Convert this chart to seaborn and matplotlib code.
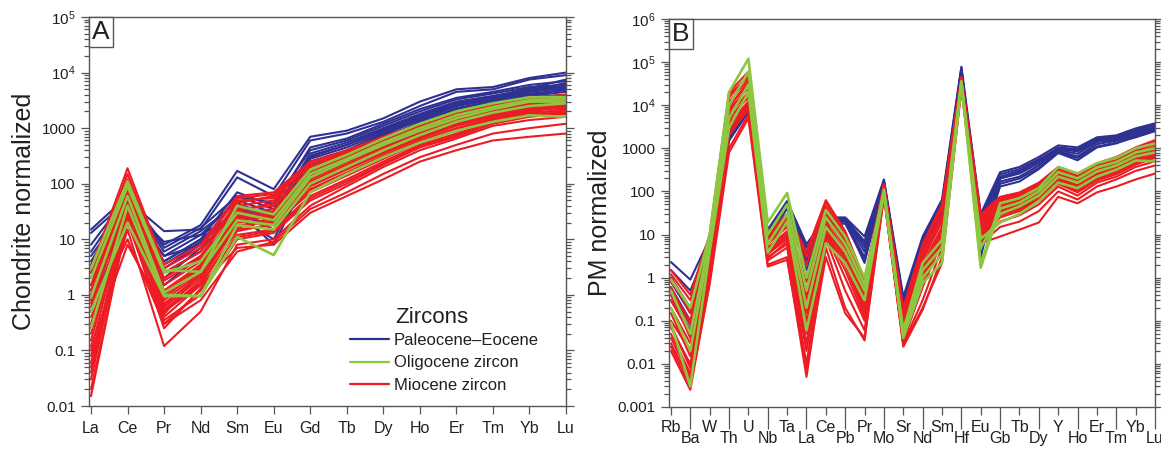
import numpy as np
import pandas as pd
import matplotlib
matplotlib.use("Agg")
import matplotlib.pyplot as plt
import seaborn as sns
from matplotlib.ticker import LogLocator, FuncFormatter, NullFormatter
from matplotlib.offsetbox import AnchoredText
from matplotlib.lines import Line2D

# ---------------- data ----------------
ree_elements = ["La", "Ce", "Pr", "Nd", "Sm", "Eu", "Gd", "Tb", "Dy", "Ho", "Er", "Tm", "Yb", "Lu"]
pm_elements = ["Rb", "Ba", "W", "Th", "U", "Nb", "Ta", "La", "Ce", "Pb", "Pr", "Mo", "Sr",
               "Nd", "Sm", "Hf", "Eu", "Gb", "Tb", "Dy", "Y", "Ho", "Er", "Tm", "Yb", "Lu"]

group_labels = ["Paleocene–Eocene", "Oligocene zircon", "Miocene zircon"]
group_colors = ["#2e3192", "#8dc63f", "#ed1c24"]

# Chondrite-normalized REE, Paleocene–Eocene zircon
ree_paleo = [
    [15, 60, 8, 18, 170, 80, 700, 900, 1500, 3000, 5000, 5500, 8000, 10000],
    [13, 50, 14, 15, 130, 60, 600, 800, 1300, 2500, 4500, 5000, 7500, 9000],
    [5, 40, 4, 10, 70, 40, 450, 650, 1200, 2200, 3500, 4500, 6000, 7000],
    [3, 30, 3, 8, 60, 35, 300, 500, 900, 1600, 2800, 3500, 5000, 6000],
    [1.5, 25, 2.5, 6, 40, 25, 250, 400, 800, 1400, 2500, 3200, 4500, 5500],
    [4, 45, 5, 12, 50, 30, 350, 550, 1000, 1800, 3000, 3800, 5000, 5500],
    [2, 35, 3.5, 9, 35, 20, 200, 350, 700, 1200, 2200, 3000, 4000, 5000],
    [1, 28, 2, 7, 30, 15, 150, 300, 600, 1100, 2000, 2800, 3800, 4500],
    [6, 55, 6, 14, 45, 25, 280, 450, 850, 1500, 2700, 3400, 4600, 5200],
    [0.5, 30, 1.5, 5, 25, 10, 180, 320, 650, 1300, 2300, 3000, 4200, 4800],
    [2.5, 38, 9, 12, 28, 18, 220, 380, 750, 1400, 2600, 3300, 4800, 6500],
    [8, 60, 7, 16, 60, 45, 400, 600, 1100, 2000, 3300, 4200, 5500, 6000],
    [1.2, 32, 4, 10, 32, 8, 160, 280, 600, 1000, 1800, 2600, 3600, 4000],
    [3.5, 42, 5, 8, 38, 22, 320, 500, 950, 1700, 2900, 3700, 5200, 7500],
]

# Chondrite-normalized REE, Oligocene zircon
ree_olig = [
    [3, 110, 2.8, 2.6, 40, 28, 180, 330, 650, 1200, 2000, 2800, 3600, 3600],
    [0.9, 60, 1.1, 2.6, 22, 18, 130, 260, 500, 900, 1500, 2200, 3000, 3000],
    [0.25, 40, 1.0, 0.95, 18, 15, 100, 200, 400, 750, 1300, 1900, 2500, 2800],
    [0.5, 20, 0.95, 0.95, 11, 5.2, 70, 150, 300, 550, 900, 1300, 1700, 1600],
    [2, 90, 2.5, 4, 30, 22, 150, 280, 550, 1000, 1700, 2400, 3200, 3300],
]

# Chondrite-normalized REE, Miocene zircon
ree_mio = [
    [3, 190, 3.5, 8, 60, 70, 250, 400, 700, 1200, 2000, 2600, 3500, 4000],
    [2, 120, 2.5, 6, 45, 60, 200, 350, 650, 1100, 1800, 2400, 3200, 3800],
    [1.5, 100, 2, 5, 40, 50, 180, 320, 600, 1000, 1700, 2300, 3000, 3500],
    [1, 80, 1.5, 4, 35, 40, 160, 300, 550, 950, 1600, 2200, 2800, 3300],
    [0.8, 70, 1.2, 3.5, 30, 35, 140, 260, 500, 900, 1500, 2000, 2600, 3000],
    [0.5, 60, 1, 3, 28, 30, 120, 240, 450, 800, 1400, 1900, 2500, 2900],
    [0.3, 50, 0.8, 2.5, 25, 28, 110, 220, 420, 750, 1300, 1800, 2400, 2800],
    [0.2, 45, 0.7, 2.2, 22, 25, 100, 200, 380, 700, 1200, 1700, 2200, 2600],
    [0.1, 40, 0.6, 2, 20, 22, 90, 180, 350, 650, 1100, 1600, 2100, 2500],
    [0.06, 35, 0.5, 1.8, 18, 20, 80, 160, 320, 600, 1000, 1500, 2000, 2400],
    [0.03, 30, 0.4, 1.5, 15, 18, 70, 140, 280, 550, 900, 1400, 1800, 2200],
    [0.015, 25, 0.3, 1.2, 12, 15, 60, 120, 250, 500, 800, 1300, 1700, 2000],
    [0.05, 20, 0.35, 1, 10, 13, 50, 100, 220, 450, 700, 1200, 1600, 1800],
    [0.08, 15, 0.12, 0.5, 8, 10, 40, 90, 200, 400, 650, 1100, 1400, 1600],
    [0.4, 10, 0.3, 0.8, 6, 9, 35, 70, 150, 300, 500, 800, 1000, 1200],
    [0.12, 8, 0.5, 1.5, 7, 8, 30, 60, 120, 250, 400, 600, 700, 800],
    [1.2, 90, 1.8, 4.5, 50, 55, 220, 380, 680, 1150, 1900, 2500, 3300, 3600],
    [0.6, 65, 0.9, 2.8, 32, 45, 150, 280, 520, 920, 1550, 2100, 2700, 3100],
    [0.25, 55, 1.1, 3.2, 26, 32, 130, 250, 470, 850, 1450, 1950, 2550, 2700],
    [0.15, 42, 0.45, 2.6, 16, 24, 95, 190, 360, 680, 1150, 1650, 2150, 2300],
    [0.04, 28, 0.55, 1.6, 14, 19, 75, 150, 300, 580, 950, 1450, 1900, 2100],
    [0.02, 22, 0.25, 1.3, 11, 14, 55, 110, 230, 470, 750, 1250, 1650, 1900],
    [2.5, 150, 3, 7, 55, 65, 230, 360, 620, 1050, 1750, 2350, 3100, 3400],
    [0.7, 75, 0.65, 2.4, 24, 26, 105, 210, 400, 720, 1250, 1750, 2300, 2500],
]

# Primitive-mantle-normalized trace elements, Paleocene–Eocene zircon
pm_paleo = [
    [2.3, 0.9, 8, 3000, 12000, 13, 60, 6, 25, 25, 9, 190, 0.36, 9, 65, 78000, 30, 280, 370, 630, 1170, 1050, 1800, 2000, 2900, 3800],
    [1.5, 0.5, 6, 2500, 10000, 11, 55, 4, 22, 24, 6, 170, 0.3, 7, 50, 70000, 25, 250, 330, 560, 1000, 900, 1600, 1800, 2600, 3400],
    [1.0, 0.2, 5, 2000, 9000, 10, 50, 3, 20, 22, 4, 160, 0.25, 6, 40, 65000, 20, 220, 300, 500, 950, 850, 1500, 1700, 2400, 3100],
    [0.6, 0.1, 4, 1800, 8000, 9, 45, 2.5, 18, 20, 3, 150, 0.2, 5, 35, 60000, 15, 200, 260, 450, 900, 750, 1400, 1600, 2200, 2900],
    [0.4, 0.06, 3, 1500, 7000, 8, 40, 2, 16, 18, 2.5, 140, 0.15, 4, 30, 55000, 10, 170, 220, 400, 850, 650, 1250, 1500, 2000, 2700],
    [0.8, 0.15, 4.5, 2200, 9500, 12, 58, 5, 24, 23, 7, 180, 0.28, 8, 55, 72000, 8, 150, 200, 350, 800, 600, 1100, 1350, 1800, 2500],
    [0.3, 0.05, 3.5, 1600, 7500, 9.5, 48, 1.5, 19, 21, 2.2, 155, 0.12, 3.5, 25, 58000, 5, 130, 170, 330, 780, 530, 1050, 1300, 1900, 2600],
    [0.5, 0.08, 4, 1900, 8500, 10.5, 52, 3.5, 21, 24, 5, 165, 0.22, 6.5, 45, 68000, 3, 200, 280, 520, 1050, 950, 1700, 1900, 2700, 3500],
]

# Primitive-mantle-normalized trace elements, Oligocene zircon
pm_olig = [
    [0.9, 0.2, 10, 20000, 120000, 19, 92, 1, 37, 9, 1.0, 95, 0.06, 2.2, 7.5, 34000, 2, 53, 70, 120, 370, 260, 450, 600, 1000, 1300],
    [0.5, 0.05, 8, 10000, 60000, 10, 50, 0.5, 25, 6, 0.7, 110, 0.05, 1.5, 5, 36000, 1.7, 40, 55, 100, 280, 200, 360, 480, 800, 1000],
    [0.2, 0.02, 6, 5000, 30000, 6, 30, 0.2, 15, 4, 0.5, 100, 0.045, 1.0, 3.5, 33000, 5, 30, 45, 80, 220, 160, 290, 400, 650, 800],
    [0.09, 0.003, 4, 3000, 20000, 3.8, 20, 0.06, 6.3, 2.2, 0.3, 90, 0.04, 0.75, 2.2, 32000, 8, 19, 30, 60, 160, 120, 220, 320, 520, 500],
]

# Primitive-mantle-normalized trace elements, Miocene zircon
pm_mio = [
    [1.5, 0.4, 10, 20000, 60000, 11, 30, 4, 63, 12, 0.9, 150, 0.2, 6, 50, 45000, 30, 75, 95, 160, 370, 260, 450, 630, 1050, 1550],
    [1.2, 0.3, 8, 15000, 50000, 9, 25, 2, 45, 10, 0.7, 140, 0.15, 5, 40, 42000, 25, 65, 85, 140, 330, 230, 400, 560, 950, 1400],
    [0.8, 0.2, 6, 12000, 40000, 8, 20, 1, 35, 8, 0.5, 130, 0.12, 4, 30, 40000, 20, 55, 75, 120, 300, 200, 360, 500, 850, 1250],
    [0.5, 0.1, 5, 10000, 30000, 7, 18, 0.5, 30, 6, 0.4, 120, 0.1, 3, 25, 38000, 18, 50, 65, 110, 270, 180, 320, 450, 750, 1100],
    [0.3, 0.05, 4, 8000, 25000, 6, 15, 0.3, 25, 5, 0.3, 115, 0.08, 2.5, 20, 36000, 15, 45, 58, 100, 240, 160, 290, 400, 680, 1000],
    [0.2, 0.03, 3, 6000, 20000, 5, 12, 0.2, 20, 4, 0.25, 110, 0.06, 2, 15, 34000, 13, 40, 50, 90, 210, 140, 260, 360, 600, 900],
    [0.1, 0.02, 2.5, 5000, 15000, 4, 10, 0.1, 15, 3, 0.2, 100, 0.05, 1.5, 12, 32000, 11, 35, 45, 80, 190, 120, 230, 320, 540, 800],
    [0.07, 0.01, 2, 4000, 12000, 3.5, 8, 0.05, 12, 2, 0.15, 95, 0.04, 1, 9, 30000, 9, 30, 40, 70, 170, 110, 200, 280, 480, 700],
    [0.05, 0.006, 1.5, 3000, 10000, 3, 6, 0.02, 10, 1, 0.1, 90, 0.035, 0.6, 7, 28000, 8, 25, 35, 60, 150, 95, 180, 250, 420, 600],
    [0.03, 0.004, 1, 2000, 8000, 2.5, 5, 0.01, 8, 0.5, 0.06, 85, 0.03, 0.3, 5, 26000, 7, 20, 28, 50, 130, 80, 160, 220, 370, 500],
    [0.02, 0.0025, 0.8, 1000, 6000, 2, 3, 0.005, 5, 0.2, 0.035, 80, 0.025, 0.18, 3, 25000, 6, 15, 20, 35, 100, 65, 130, 190, 300, 400],
    [0.025, 0.003, 0.7, 800, 5000, 1.8, 2.6, 0.008, 3, 0.15, 0.04, 75, 0.028, 0.2, 2.2, 24000, 6.3, 9, 13, 19, 75, 53, 95, 130, 190, 260],
    [1.0, 0.15, 7, 18000, 45000, 10, 28, 3, 55, 11, 0.8, 145, 0.18, 5.5, 45, 44000, 28, 70, 90, 150, 350, 250, 430, 600, 1000, 1500],
    [0.6, 0.08, 4.5, 9000, 35000, 7.5, 22, 0.8, 40, 7, 0.45, 125, 0.11, 3.5, 28, 39000, 22, 60, 80, 130, 290, 210, 380, 520, 880, 1300],
    [0.4, 0.04, 3.5, 7000, 28000, 6.5, 16, 0.4, 28, 5.5, 0.35, 118, 0.09, 2.8, 22, 37000, 16, 48, 62, 105, 255, 170, 300, 420, 700, 1050],
    [0.15, 0.015, 2.2, 4500, 18000, 4.5, 11, 0.15, 18, 3.5, 0.22, 105, 0.055, 1.8, 14, 33000, 12, 38, 48, 85, 200, 130, 245, 340, 570, 850],
    [0.08, 0.008, 1.8, 3500, 11000, 3.8, 9, 0.07, 14, 2.5, 0.17, 98, 0.045, 1.2, 10, 31000, 10, 32, 42, 75, 180, 115, 215, 300, 510, 750],
    [0.04, 0.005, 1.2, 2500, 9000, 2.8, 7, 0.03, 11, 1.5, 0.12, 88, 0.032, 0.8, 8, 29000, 9, 28, 38, 65, 160, 100, 190, 265, 450, 650],
]

# ---------------- style ----------------
sns.set_style("ticks")
plt.rcParams["font.family"] = ["Liberation Sans", "DejaVu Sans"]
plt.rcParams["mathtext.default"] = "regular"
TXT = "#231f20"
SPINE = "#555555"


def long_frame(elements, rows, group):
    recs = []
    for i, row in enumerate(rows):
        for j, (el, v) in enumerate(zip(elements, row)):
            recs.append({"sample": f"{group}-{i}", "pos": j, "element": el,
                         "value": v, "group": group})
    return pd.DataFrame(recs)


def log_fmt(v, pos):
    e = int(round(np.log10(v)))
    if e >= 4:
        return rf"$10^{{{e}}}$"
    if e >= 0:
        return f"{int(round(v))}"
    return f"{v:.{-e}f}"


def style_axis(ax, ylo, yhi, ylabel, letter):
    ax.set_yscale("log")
    ax.set_ylim(ylo, yhi)
    ax.yaxis.set_major_locator(LogLocator(base=10, numticks=100))
    ax.yaxis.set_minor_locator(LogLocator(base=10, subs=np.arange(2, 10), numticks=100))
    ax.yaxis.set_major_formatter(FuncFormatter(log_fmt))
    ax.yaxis.set_minor_formatter(NullFormatter())
    ax.tick_params(axis="y", which="both", direction="out", left=True, right=True,
                   colors=SPINE, labelcolor=TXT, labelsize=11, width=0.9)
    ax.tick_params(axis="y", which="major", length=6)
    ax.tick_params(axis="y", which="minor", length=3.5)
    ax.set_ylabel(ylabel, fontsize=18, color=TXT, labelpad=4)
    ax.set_xlabel("")
    ax.xaxis.label.set_visible(False)
    for s in ax.spines.values():
        s.set_color(SPINE)
        s.set_linewidth(1.0)
        s.set_visible(True)
    at = AnchoredText(letter, loc="upper left", prop=dict(size=19, color=TXT),
                      frameon=True, pad=0.12, borderpad=0.0)
    at.patch.set_edgecolor(SPINE)
    at.patch.set_linewidth(1.0)
    at.patch.set_boxstyle("square,pad=0")
    ax.add_artist(at)


fig = plt.figure(figsize=(11.61, 4.51), dpi=100)
axA = fig.add_axes([89 / 1161, 45 / 451, 477 / 1161, 389 / 451])
axB = fig.add_axes([669 / 1161, 44 / 451, 486 / 1161, 388 / 451])

# draw order: Paleocene–Eocene, Miocene, Oligocene (on top)
order = [(0, ree_paleo, pm_paleo, 1.5), (2, ree_mio, pm_mio, 1.5), (1, ree_olig, pm_olig, 1.9)]
for gi, ree_rows, pm_rows, lw in order:
    dfa = long_frame(ree_elements, ree_rows, group_labels[gi])
    sns.lineplot(data=dfa, x="pos", y="value", units="sample", estimator=None,
                 sort=False, color=group_colors[gi], lw=lw, ax=axA, legend=False)
    dfb = long_frame(pm_elements, pm_rows, group_labels[gi])
    sns.lineplot(data=dfb, x="pos", y="value", units="sample", estimator=None,
                 sort=False, color=group_colors[gi], lw=lw, ax=axB, legend=False)

# ---- panel A ----
style_axis(axA, 0.01, 1e5, "Chondrite normalized", "A")
axA.set_xlim(-0.055, len(ree_elements) - 1)
axA.set_xticks(range(len(ree_elements)))
axA.set_xticklabels(ree_elements)
axA.tick_params(axis="x", which="major", direction="out", length=6, width=0.9,
                colors=SPINE, labelcolor=TXT, labelsize=11.5, pad=5)

handles = [Line2D([], [], color=c, lw=1.6) for c in group_colors]
leg = axA.legend(handles, group_labels, loc="lower left", bbox_to_anchor=(0.547, 0.033),
                 frameon=False, fontsize=12, handlelength=2.35, handletextpad=0.3,
                 labelspacing=0.46, borderpad=0, borderaxespad=0)
for t in leg.get_texts():
    t.set_color(TXT)
axA.text(0.643, 0.228, "Zircons", transform=axA.transAxes, fontsize=16,
         color=TXT, ha="left", va="center")

# ---- panel B ----
style_axis(axB, 0.001, 1e6, "PM normalized", "B")
axB.set_xlim(-0.1, len(pm_elements) - 1)
axB.set_xticks(range(0, len(pm_elements), 2))
axB.set_xticklabels(pm_elements[0::2])
axB.set_xticks(range(1, len(pm_elements), 2), minor=True)
axB.set_xticklabels(pm_elements[1::2], minor=True)
axB.tick_params(axis="x", which="major", direction="out", length=6, width=0.9,
                colors=SPINE, labelcolor=TXT, labelsize=11.5, pad=3)
axB.tick_params(axis="x", which="minor", direction="out", length=15.5, width=0.9,
                colors=SPINE, labelcolor=TXT, labelsize=11.5, pad=1.5)

fig.savefig("out.png", dpi=100)
